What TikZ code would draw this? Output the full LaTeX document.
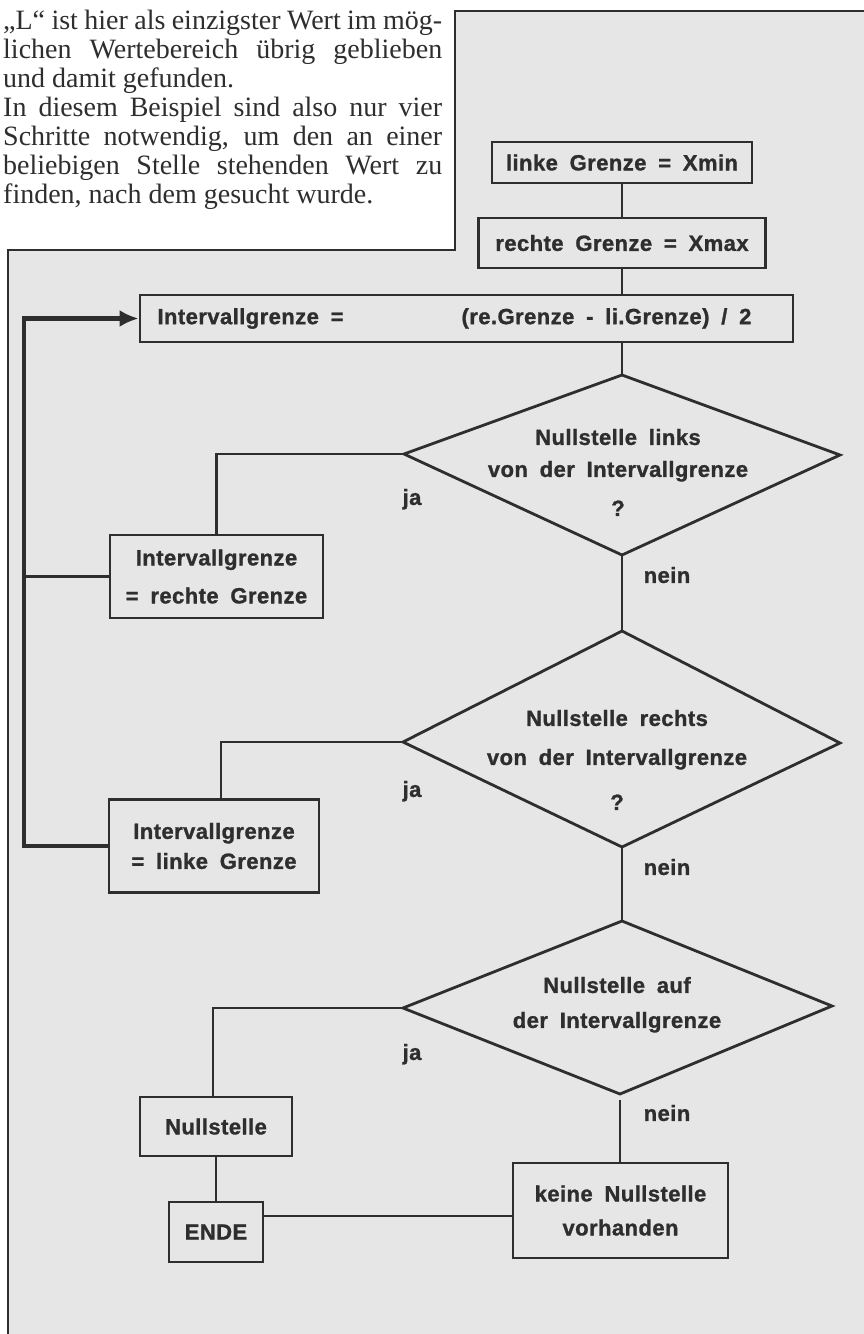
\documentclass[tikz,border=0pt]{standalone}
\usepackage{fontspec}
\setmainfont{Liberation Serif}
\newfontfamily\flowfont[LetterSpace=2,WordSpace=1.8,BoldFeatures={FakeBold=1.2}]{Liberation Sans}
\usetikzlibrary{arrows.meta}
\definecolor{ink}{HTML}{2E2E2E}
\definecolor{paper}{HTML}{E6E6E6}
\begin{document}
\begin{tikzpicture}[x=1pt,y=-1pt,
  flow/.style={font=\flowfont\bfseries\fontsize{22}{30}\selectfont, text=ink},
  box/.style={flow, draw=ink, line width=2.8pt, inner sep=0pt, align=center},
  lbl/.style={flow, inner sep=0pt, text height=15.8pt, text depth=0pt},
  conn/.style={draw=ink, line width=2.8pt},
  diam/.style={draw=ink, line width=2.8pt, line join=miter},
  prose/.style={anchor=base west, inner sep=0pt, text=ink, font=\fontsize{28}{29}\selectfont},
  frame/.style={draw=ink, line width=1.8pt}
]
\useasboundingbox (0,0) rectangle (864,1334);
\fill[white] (0,0) rectangle (864,1334);
\fill[paper] (455,11) -- (864,11) -- (864,1334) -- (8,1334) -- (8,250) -- (455,250) -- cycle;
\draw[frame] (864,11) -- (455,11) -- (455,250) -- (8,250) -- (8,1334);

% prose text
\node[prose] (t1) at (3,29)  {\makebox[439pt][s]{„L“ ist hier als einzigster Wert im mög-}};
\node[prose] (t2) at (3,58)  {\makebox[439pt][s]{lichen Wertebereich übrig geblieben}};
\node[prose] (t3) at (3,87)  {und damit gefunden.};
\node[prose] (t4) at (3,116) {\makebox[439pt][s]{In diesem Beispiel sind also nur vier}};
\node[prose] (t5) at (3,145) {\makebox[439pt][s]{Schritte notwendig, um den an einer}};
\node[prose] (t6) at (3,174) {\makebox[439pt][s]{beliebigen Stelle stehenden Wert zu}};
\node[prose] (t7) at (3,203) {finden, nach dem gesucht wurde.};

% boxes
\node[box, minimum width=260pt, minimum height=41pt] (n1) at (622,162.5) {linke Grenze = Xmin};
\node[box, minimum width=287pt, minimum height=50pt] (n2) at (622,243) {rechte Grenze = Xmax};
\node[box, minimum width=653pt, minimum height=47pt] (n3) at (466.5,318.5)
  {\makebox[618pt][l]{Intervallgrenze =\hspace*{118pt}(re.Grenze - li.Grenze) / 2}};
\node[box, minimum width=213pt, minimum height=83pt] (b1) at (216.5,576.5) {Intervallgrenze\\[8pt]= rechte Grenze};
\node[box, minimum width=210pt, minimum height=93pt] (b2) at (214,846) {Intervallgrenze\\= linke Grenze};
\node[box, minimum width=152pt, minimum height=59pt] (b3) at (216,1126.5) {Nullstelle};
\node[box, minimum width=94pt, minimum height=60pt] (ende) at (216,1232) {ENDE};
\node[box, minimum width=215pt, minimum height=95pt] (keine) at (620.5,1210.5) {keine Nullstelle\\[4pt]vorhanden};

% diamonds
\coordinate (d1t) at (622,375); \coordinate (d1r) at (840,455);
\coordinate (d1b) at (622,555); \coordinate (d1l) at (404,454);
\draw[diam] (d1t) -- (d1r) -- (d1b) -- (d1l) -- cycle;
\node[lbl] (d1a) at (618,437) {Nullstelle links};
\node[lbl] (d1c) at (618,469) {von der Intervallgrenze};
\node[lbl] (d1d) at (618,508) {?};

\coordinate (d2t) at (622,631); \coordinate (d2r) at (840,743);
\coordinate (d2b) at (622,847); \coordinate (d2l) at (403,742);
\draw[diam] (d2t) -- (d2r) -- (d2b) -- (d2l) -- cycle;
\node[lbl] (d2a) at (617,718) {Nullstelle rechts};
\node[lbl] (d2c) at (617,757) {von der Intervallgrenze};
\node[lbl] (d2d) at (617,802) {?};

\coordinate (d3t) at (622,921); \coordinate (d3r) at (832,1006);
\coordinate (d3b) at (620,1094); \coordinate (d3l) at (403,1008);
\draw[diam] (d3t) -- (d3r) -- (d3b) -- (d3l) -- cycle;
\node[lbl] (d3a) at (617,985) {Nullstelle auf};
\node[lbl] (d3c) at (617,1020) {der Intervallgrenze};

% labels
\node[lbl] (ja1) at (412,497) {ja};
\node[lbl] (nein1) at (667,575) {nein};
\node[lbl] (ja2) at (412,789) {ja};
\node[lbl] (nein2) at (667,867) {nein};
\node[lbl] (ja3) at (412,1052) {ja};
\node[lbl] (nein3) at (667,1113) {nein};

% connectors
\draw[conn] (n1.south) -- (n2.north);
\draw[conn] (n2.south) -- (n2.south |- n3.north);
\draw[conn] (n3.south -| d1t) -- (d1t);
\draw[conn] (d1b) -- (d2t);
\draw[conn] (d2b) -- (d3t);
\draw[conn] (d1l) -| (b1.north);
\draw[conn] (d2l) -| ([xshift=7pt]b2.north);
\draw[conn] (d3l) -| ([xshift=-3pt]b3.north);
\draw[conn] (b3.south) -- (ende.north);
\draw[conn] ([yshift=16pt]ende.east) -- ([yshift=16pt]ende.east -| keine.west);
\draw[conn] ([yshift=-6pt]d3b) -- (keine.north -| d3b);

% loop back
\coordinate (lt) at (24,318.5);
\draw[conn] (b1.west) -- (b1.west -| lt);
\draw[conn, line width=3.2pt] (b2.west) -| ([yshift=1pt]lt);
\draw[draw=ink, fill=ink, line width=5.5pt, -{Latex[length=19pt,width=17pt]}] ([xshift=-1.6pt]lt) -- (n3.west);
\end{tikzpicture}
\end{document}
